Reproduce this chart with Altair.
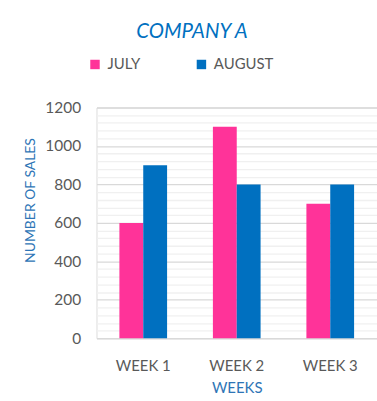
import altair as alt
import pandas as pd

weeks = ["WEEK 1", "WEEK 2", "WEEK 3"]
months = ["JULY", "AUGUST"]
july = [600, 1100, 700]
august = [900, 800, 800]
colors = ["#FF3399", "#0070C0"]

rows = []
for w, j, a in zip(weeks, july, august):
    rows.append({"week": w, "month": "JULY", "sales": j})
    rows.append({"week": w, "month": "AUGUST", "sales": a})
df = pd.DataFrame(rows)

FONT = "Lato"
LABEL = "#595959"
AXT = "#2E75B6"

chart = alt.Chart(df).mark_bar().encode(
    x=alt.X("week:N", sort=weeks,
            scale=alt.Scale(paddingInner=0.49, paddingOuter=0.245),
            axis=alt.Axis(title="WEEKS", labelAngle=0, ticks=False, domain=False,
                          labelPadding=20, labelFontSize=15, labelColor=LABEL,
                          labelFont=FONT, titleFont=FONT, titleFontSize=15,
                          titleColor=AXT, titleFontWeight="normal", titlePadding=8)),
    xOffset=alt.XOffset("month:N", sort=months, scale=alt.Scale(paddingInner=0, paddingOuter=0)),
    y=alt.Y("sales:Q", scale=alt.Scale(domain=[0, 1200], nice=False),
            axis=alt.Axis(title="NUMBER OF SALES", values=list(range(0, 1201, 40)),
                          labelExpr="datum.value % 200 === 0 ? datum.label : ''",
                          format="d", ticks=False, domain=False, grid=True,
                          gridColor={"condition": {"test": "datum.value % 200 === 0", "value": "#D9D9D9"}, "value": "#F0F0F0"},
                          gridWidth=1.3,
                          labelPadding=16, labelFontSize=15.5, labelColor=LABEL,
                          labelFont=FONT, titleFont=FONT, titleFontSize=14,
                          titleColor=AXT, titleFontWeight="normal", titlePadding=7,
                          titleY=93)),
    color=alt.Color("month:N", sort=months, scale=alt.Scale(domain=months, range=colors),
                    legend=alt.Legend(title=None, orient="none", direction="horizontal",
                                      legendX=-9, legendY=-51, symbolType="square",
                                      symbolSize=90, symbolStrokeWidth=0, symbolOpacity=1,
                                      labelFontSize=15, labelColor=LABEL, labelFont=FONT,
                                      labelOffset=5, columnPadding=53)),
).properties(
    width=282, height=232,
    title=alt.TitleParams("COMPANY A", font=FONT, fontSize=20.5, fontStyle="italic",
                          fontWeight="normal", color="#0070C0", anchor="middle",
                          dx=-45, offset=14, orient="top"),
    autosize=alt.AutoSizeParams(type="none"),
    padding={"left": 97, "top": 107, "right": 0, "bottom": 62},
).configure_view(stroke=None).configure(background="white")

chart.save("out.html", embed_options={"renderer": "svg", "actions": False})
